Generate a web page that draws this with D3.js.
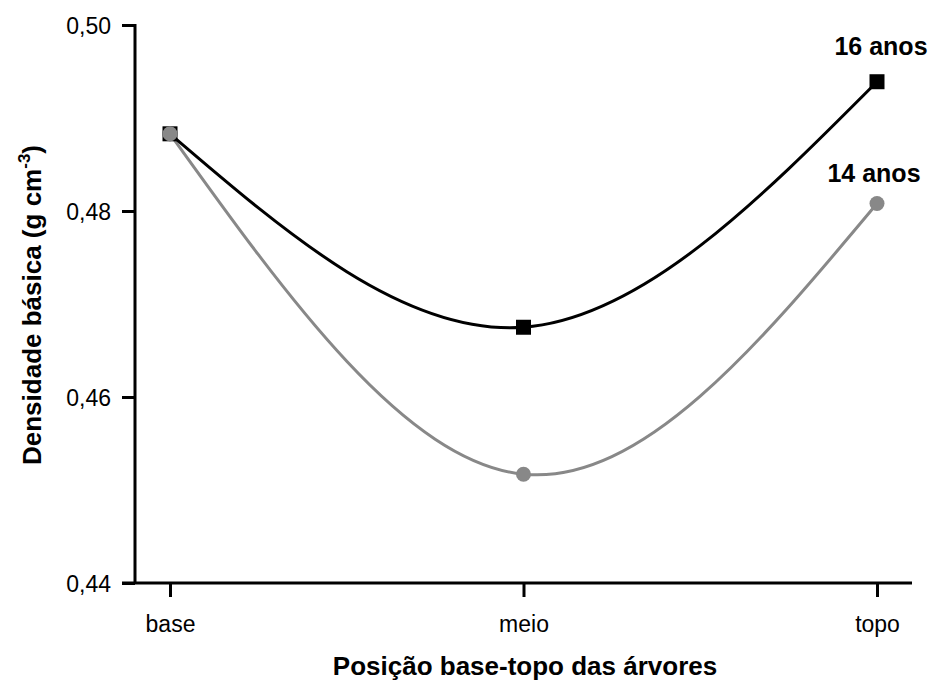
<!DOCTYPE html>
<html><head><meta charset="utf-8">
<script src="https://cdn.jsdelivr.net/npm/d3@7"></script>
<style>body{margin:0;background:#fff}svg{display:block}text{font-family:"Liberation Sans",Arial,sans-serif}</style>
</head><body><svg id="c" width="933" height="684"></svg>
<script>
const categories = ["base", "meio", "topo"];
const anos16 = [0.4883, 0.4675, 0.4939];
const anos14 = [0.4883, 0.4517, 0.4808];
const yTicks = [0.44, 0.46, 0.48, 0.50];
const seriesLabels = ["16 anos", "14 anos"];

const svg = d3.select("#c");
const x = d3.scalePoint().domain(categories).range([170, 877]);
const y = d3.scaleLinear().domain([0.44, 0.50]).range([583, 25]);

// axes
const gx = svg.append("g").attr("transform", "translate(0,583)");
gx.append("line").attr("x1", 122).attr("x2", 912).attr("stroke", "#000").attr("stroke-width", 3);
gx.call(d3.axisBottom(x).tickSize(14).tickSizeOuter(0))
  .call(g => g.select(".domain").remove())
  .call(g => g.selectAll(".tick line").attr("stroke-width", 3))
  .call(g => g.selectAll(".tick text").attr("font-size", 23).attr("y", 49).attr("dy", 0).attr("fill", "#000"));

const gy = svg.append("g").attr("transform", "translate(135,0)");
gy.append("line").attr("y1", 24).attr("y2", 584).attr("stroke", "#000").attr("stroke-width", 3);
gy.call(d3.axisLeft(y).tickValues(yTicks).tickSize(13).tickFormat(d => d3.format(".2f")(d).replace(".", ",")))
  .call(g => g.select(".domain").remove())
  .call(g => g.selectAll(".tick line").attr("stroke-width", 3))
  .call(g => g.selectAll(".tick text").attr("font-size", 23).attr("x", -24).attr("dy", "0.36em").attr("fill", "#000"));

const line = d3.line().x((d, i) => x(categories[i])).y(d => y(d)).curve(d3.curveNatural);

svg.append("path").datum(anos14).attr("d", line).attr("fill", "none").attr("stroke", "#888").attr("stroke-width", 3);
svg.append("path").datum(anos16).attr("d", line).attr("fill", "none").attr("stroke", "#000").attr("stroke-width", 3);

svg.selectAll(".c14").data(anos14).enter().append("circle")
  .attr("cx", (d, i) => x(categories[i])).attr("cy", d => y(d)).attr("r", 7.5).attr("fill", "#888");
svg.selectAll(".s16").data(anos16).enter().append("rect")
  .attr("x", (d, i) => x(categories[i]) - 7.5).attr("y", d => y(d) - 7.5).attr("width", 15).attr("height", 15).attr("fill", "#000");
svg.append("circle").attr("cx", x(categories[0])).attr("cy", y(anos14[0])).attr("r", 7.5).attr("fill", "#888");

svg.append("text").attr("x", x("topo") + 4).attr("y", y(anos16[2]) - 27).attr("text-anchor", "middle")
  .attr("font-size", 25).attr("font-weight", "bold").text(seriesLabels[0]);
svg.append("text").attr("x", x("topo") - 3).attr("y", y(anos14[2]) - 22).attr("text-anchor", "middle")
  .attr("font-size", 25).attr("font-weight", "bold").text(seriesLabels[1]);

svg.append("text").attr("x", 525).attr("y", 675).attr("text-anchor", "middle")
  .attr("font-size", 26).attr("font-weight", "bold").text("Posição base-topo das árvores");

const yt = svg.append("text").attr("transform", "translate(41,305) rotate(-90)").attr("text-anchor", "middle")
  .attr("font-size", 26).attr("font-weight", "bold");
yt.append("tspan").text("Densidade básica (g cm");
yt.append("tspan").attr("font-size", 17).attr("dy", -11).text("-3");
yt.append("tspan").attr("dy", 11).text(")");
</script></body></html>
